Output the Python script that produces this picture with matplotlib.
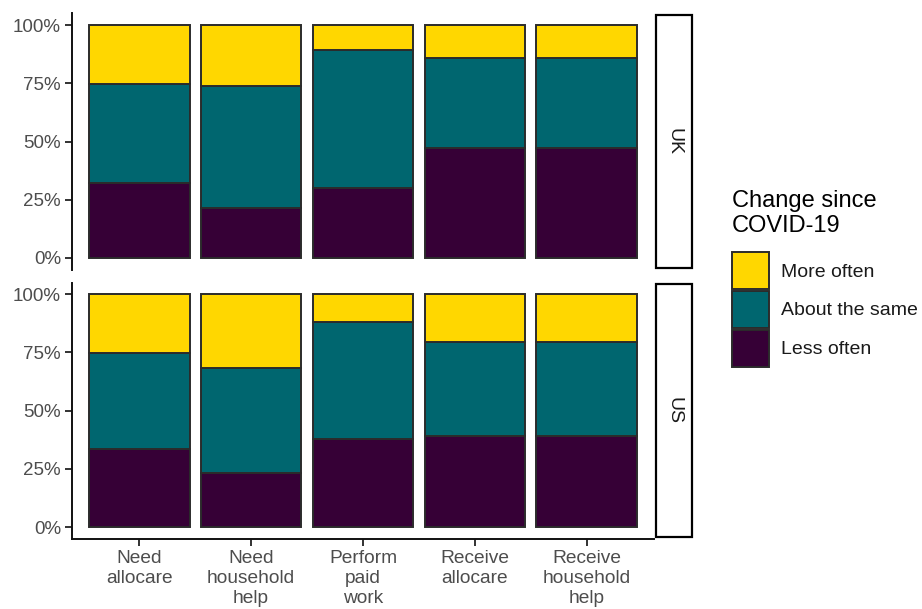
import matplotlib
matplotlib.use("Agg")
import matplotlib.pyplot as plt
from matplotlib.patches import Patch, Rectangle
import numpy as np

plt.rcParams['font.family'] = ['Liberation Sans', 'DejaVu Sans']

# Data: share of respondents per activity (fractions)
categories = ["Need\nallocare", "Need\nhousehold\nhelp", "Perform\npaid\nwork",
              "Receive\nallocare", "Receive\nhousehold\nhelp"]
countries = ["UK", "US"]
levels = ["More often", "About the same", "Less often"]

uk_less = [0.32, 0.213, 0.30, 0.473, 0.473]
uk_same = [0.427, 0.525, 0.593, 0.387, 0.387]
uk_more = [0.253, 0.262, 0.107, 0.140, 0.140]

us_less = [0.336, 0.234, 0.378, 0.393, 0.393]
us_same = [0.411, 0.451, 0.504, 0.401, 0.401]
us_more = [0.253, 0.315, 0.118, 0.206, 0.206]

colors = {"More often": "#FFD700", "About the same": "#00666F", "Less often": "#360036"}
edge = "#2b2b2b"
tick_col = "#4d4d4d"

W, H = 922, 609
fig = plt.figure(figsize=(W / 100, H / 100), dpi=100)


def px_axes(x0, y0, x1, y1):
    return fig.add_axes([x0 / W, 1 - y1 / H, (x1 - x0) / W, (y1 - y0) / H])


panels = {
    "UK": (px_axes(72, 13.4, 654, 269.6), uk_less, uk_same, uk_more),
    "US": (px_axes(72, 282.6, 654, 538.8), us_less, us_same, us_more),
}

x = np.arange(1, len(categories) + 1)
for i, name in enumerate(countries):
    ax, less, same, more = panels[name]
    less = np.array(less); same = np.array(same); more = np.array(more)
    ax.bar(x, less, width=0.9, color=colors["Less often"], edgecolor=edge, linewidth=1.4)
    ax.bar(x, same, bottom=less, width=0.9, color=colors["About the same"], edgecolor=edge, linewidth=1.4)
    ax.bar(x, more, bottom=less + same, width=0.9, color=colors["More often"], edgecolor=edge, linewidth=1.4)
    ax.set_xlim(0.4, 5.6)
    ax.set_ylim(-0.05, 1.05)
    ax.set_yticks([0, 0.25, 0.5, 0.75, 1.0])
    ax.set_yticklabels(["0%", "25%", "50%", "75%", "100%"])
    ax.tick_params(axis='y', length=5, width=1.3, color="#222222", labelsize=13.5,
                   labelcolor=tick_col, pad=3)
    for s in ["top", "right"]:
        ax.spines[s].set_visible(False)
    ax.spines["left"].set_linewidth(1.4)
    ax.spines["left"].set_color("#111111")
    if i == 0:
        ax.spines["bottom"].set_visible(False)
        ax.set_xticks([])
    else:
        ax.spines["bottom"].set_linewidth(1.4)
        ax.spines["bottom"].set_color("#111111")
        ax.set_xticks(x)
        ax.set_xticklabels(categories, linespacing=1.22)
        ax.tick_params(axis='x', length=5, width=1.3, color="#222222", labelsize=13.8,
                       labelcolor=tick_col, pad=3)
    # facet strip on the right
    bb = ax.get_position()
    sx0, sx1 = 655.5 / W, 692 / W
    sy0 = bb.y0 + 1.5 / H
    sy1 = bb.y1 - 1.5 / H
    fig.patches.append(Rectangle((sx0, sy0), sx1 - sx0, sy1 - sy0, transform=fig.transFigure,
                                 facecolor="white", edgecolor="black", linewidth=1.6))
    fig.text((sx0 + sx1) / 2, (sy0 + sy1) / 2, name, rotation=-90, ha="center", va="center",
             fontsize=14, color="#1a1a1a")

handles = [Patch(facecolor=colors[l], edgecolor=edge, linewidth=1.4) for l in levels]
leg = fig.legend(handles, levels, title="Change since\nCOVID-19", loc="upper left",
                 bbox_to_anchor=(724 / W, 1 - 182 / H), frameon=False, fontsize=14,
                 title_fontsize=17, handlelength=1.9, handleheight=2.55,
                 labelspacing=0.08, handletextpad=0.62, borderaxespad=0)
leg._legend_box.align = "left"
leg._legend_box.sep = 11
for t in leg.get_texts():
    t.set_color("#1a1a1a")

fig.savefig("out.png", dpi=100)
